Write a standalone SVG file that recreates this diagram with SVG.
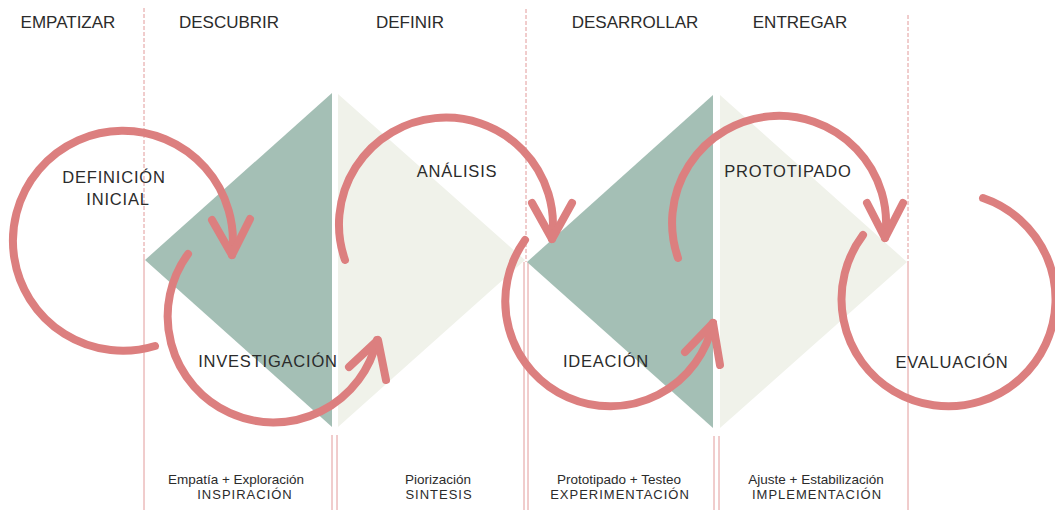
<svg xmlns="http://www.w3.org/2000/svg" width="1055" height="510" viewBox="0 0 1055 510">
<style>
.bg{fill:#ffffff}
.green{fill:#a4bfb5}
.light{fill:#f0f2ea}
.dash{stroke:#e29a9a;stroke-width:1;stroke-dasharray:4 2;fill:none}
.solid{stroke:#e29a9a;stroke-width:1;fill:none}
.loop{stroke:#dc7f7f;stroke-width:8;fill:none;stroke-linecap:round;stroke-linejoin:round}
.head{font-family:"Liberation Sans",Arial,sans-serif;font-size:17px;fill:#2b2b2b;text-anchor:middle}
.lbl{font-family:"Liberation Sans",Arial,sans-serif;font-size:16.5px;fill:#2b2b2b;text-anchor:middle;letter-spacing:0.8px}
.sub{font-family:"Liberation Sans",Arial,sans-serif;font-size:13.5px;fill:#2b2b2b;text-anchor:middle}
.subc{font-family:"Liberation Sans",Arial,sans-serif;font-size:13px;fill:#2b2b2b;text-anchor:middle;letter-spacing:1px}
</style>
<rect class="bg" x="0" y="0" width="1055" height="510"/>

<g id="grid">
  <line class="dash" x1="144" y1="8" x2="144" y2="258"/>
  <line class="solid" x1="144" y1="258" x2="144" y2="510"/>
  <line class="dash" x1="526" y1="9" x2="526" y2="262"/>
  <line class="solid" x1="524" y1="262" x2="524" y2="510"/>
  <line class="solid" x1="528" y1="262" x2="528" y2="510"/>
  <line class="dash" x1="908" y1="15" x2="908" y2="262"/>
  <line class="solid" x1="908" y1="262" x2="908" y2="510"/>
  <line class="solid" x1="332" y1="435" x2="332" y2="510"/>
  <line class="solid" x1="337" y1="435" x2="337" y2="510"/>
  <line class="solid" x1="714" y1="436" x2="714" y2="510"/>
  <line class="solid" x1="719" y1="436" x2="719" y2="510"/>
</g>

<g id="diamond-1">
  <polygon class="green" points="145,260 332,93 332,427"/>
  <polygon class="light" points="338,94 525,260 338,427"/>
</g>
<g id="diamond-2">
  <polygon class="green" points="527,262 713,95 713,428"/>
  <polygon class="light" points="720,95 907,262 720,428"/>
</g>

<g id="headers">
  <text class="head" x="68" y="28">EMPATIZAR</text>
  <text class="head" x="229" y="28">DESCUBRIR</text>
  <text class="head" x="410" y="28">DEFINIR</text>
  <text class="head" x="635" y="28">DESARROLLAR</text>
  <text class="head" x="800" y="28">ENTREGAR</text>
</g>

<g id="connectors">
  <path class="loop" d="M 155 346 A 110 110 0 1 1 232 255"/>
  <polyline class="loop" points="212,220 232,255 250,219"/>
  <path class="loop" d="M 188 254 A 106 106 0 1 0 377 340"/>
  <polyline class="loop" points="349,367 378,340 386,380"/>
  <path class="loop" d="M 345 260 A 107 107 0 1 1 552 239"/>
  <polyline class="loop" points="532,203 552,239 572,203"/>
  <path class="loop" d="M 525 240 A 105 105 0 1 0 713 323"/>
  <polyline class="loop" points="685,352 713,323 720,365"/>
  <path class="loop" d="M 678 258 A 107 107 0 1 1 885 238"/>
  <polyline class="loop" points="867,203 885,238 903,203"/>
  <path class="loop" d="M 863 235 A 107 107 0 1 0 983 198"/>
</g>

<g id="node-definicion">
  <text class="lbl" x="114" y="183">DEFINICIÓN</text>
  <text class="lbl" x="118" y="205">INICIAL</text>
</g>
<g id="node-investigacion">
  <text class="lbl" x="268" y="367">INVESTIGACIÓN</text>
</g>
<g id="node-analisis">
  <text class="lbl" x="457" y="177">ANÁLISIS</text>
</g>
<g id="node-ideacion">
  <text class="lbl" x="606" y="367">IDEACIÓN</text>
</g>
<g id="node-prototipado">
  <text class="lbl" x="788" y="177">PROTOTIPADO</text>
</g>
<g id="node-evaluacion">
  <text class="lbl" x="952" y="368">EVALUACIÓN</text>
</g>

<g id="footer">
  <text class="sub" x="236" y="484">Empatía + Exploración</text>
  <text class="subc" x="245" y="499">INSPIRACIÓN</text>
  <text class="sub" x="438" y="484">Piorización</text>
  <text class="subc" x="439" y="499">SINTESIS</text>
  <text class="sub" x="619" y="484">Prototipado + Testeo</text>
  <text class="subc" x="620" y="499">EXPERIMENTACIÓN</text>
  <text class="sub" x="816" y="484">Ajuste + Estabilización</text>
  <text class="subc" x="817" y="499">IMPLEMENTACIÓN</text>
</g>
</svg>
